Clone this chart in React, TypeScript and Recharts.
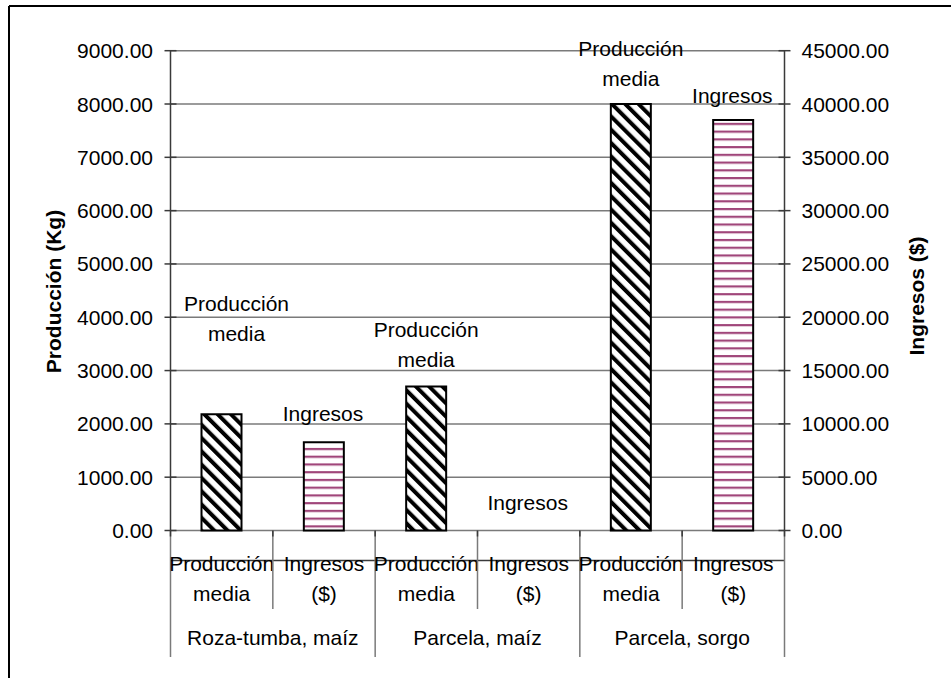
import React from 'react';
import { ComposedChart, Bar, Line, XAxis, YAxis, CartesianGrid, LabelList } from 'recharts';

// ---- data ----
const groups = ['Roza-tumba, maíz', 'Parcela, maíz', 'Parcela, sorgo'];
const subCategories = [
  ['Producción', 'media'],
  ['Ingresos', '($)'],
];
const produccionMediaKg = [2180, 2700, 8000];
const ingresosPesos = [8270, 0, 38500];
const leftTicks = [0, 1000, 2000, 3000, 4000, 5000, 6000, 7000, 8000, 9000];
const rightTicks = [0, 5000, 10000, 15000, 20000, 25000, 30000, 35000, 40000, 45000];
const prodLabelLines = ['Producción', 'media'];
const ingLabelLines = ['Ingresos'];

const rows = groups.flatMap((g, gi) => [
  { key: `${g} | ${subCategories[0].join(' ')}`, prod: produccionMediaKg[gi], ing: null },
  { key: `${g} | ${subCategories[1].join(' ')}`, prod: null, ing: ingresosPesos[gi] },
]);

// ---- layout ----
const W = 951;
const H = 678;
const PLOT_LEFT = 170.5;
const PLOT_RIGHT = 784.5;
const PLOT_TOP = 50.7;
const PLOT_BOTTOM = 530.5;
const Y_AXIS_W = 100;
const X_AXIS_H = 100;
const BAND = (PLOT_RIGHT - PLOT_LEFT) / rows.length;
const FONT = "'Liberation Sans', Arial, sans-serif";
const AXIS = '#3a3a3a';
const GRID = '#7a7a7a';
const FS = 21;

// hand-placed label nudges (relative to each bar top)
const prodLabelNudge = [
  { dx: 15, dy: -111 },
  { dx: 0, dy: -57 },
  { dx: 0, dy: -56 },
];
const ingLabelNudge = [-29, -28, -25];

const fmt = (v: number) => v.toFixed(2);

const LeftTick = (p: any) => {
  const { x, y, payload } = p;
  return (
    <g>
      <line x1={x - 6} x2={x + 6} y1={y} y2={y} stroke={AXIS} strokeWidth={1.5} />
      <text x={x - 17.5} y={y} textAnchor="end" dominantBaseline="central" fontFamily={FONT} fontSize={FS} fill="#000">
        {fmt(payload.value)}
      </text>
    </g>
  );
};

const RightTick = (p: any) => {
  const { x, y, payload } = p;
  return (
    <g>
      <line x1={x - 6} x2={x + 6} y1={y} y2={y} stroke={AXIS} strokeWidth={1.5} />
      <text x={x + 17} y={y} textAnchor="start" dominantBaseline="central" fontFamily={FONT} fontSize={FS} fill="#000">
        {fmt(payload.value)}
      </text>
    </g>
  );
};

// two-level category axis: sub-category under each bar, group name under each pair
const CategoryTick = (p: any) => {
  const { x, index } = p;
  const y = PLOT_BOTTOM;
  const sub = subCategories[index % 2];
  const isGroupStart = index % 2 === 0;
  const left = x - BAND / 2;
  const right = x + BAND / 2;
  const gi = Math.floor(index / 2);
  return (
    <g>
      <line x1={left} x2={left} y1={y} y2={y + (isGroupStart ? 126.5 : 78.5)} stroke={GRID} strokeWidth={1.5} />
      <line x1={left} x2={left} y1={y} y2={y + 6} stroke={AXIS} strokeWidth={1.5} />
      {index === rows.length - 1 && (
        <>
          <line x1={right} x2={right} y1={y} y2={y + 126.5} stroke={GRID} strokeWidth={1.5} />
          <line x1={right} x2={right} y1={y} y2={y + 6} stroke={AXIS} strokeWidth={1.5} />
        </>
      )}
      {sub.map((line, li) => (
        <text key={li} x={x} y={y + 32.5 + li * 30} textAnchor="middle" dominantBaseline="central" fontFamily={FONT} fontSize={FS} fill="#000">
          {line}
        </text>
      ))}
      {isGroupStart && (
        <text x={right} y={y + 106.5} textAnchor="middle" dominantBaseline="central" fontFamily={FONT} fontSize={FS} fill="#000">
          {groups[gi]}
        </text>
      )}
    </g>
  );
};

const groupOf = (x: number) =>
  Math.max(0, Math.min(groups.length - 1, Math.floor((x - PLOT_LEFT) / (2 * BAND))));

const ProdLabel = (props: any) => {
  if (props.value == null) return null;
  const vb = props.viewBox ?? props;
  const mid = vb.x + (vb.width || 0) / 2;
  const n = prodLabelNudge[groupOf(mid)];
  const top = vb.y + n.dy;
  return (
    <g>
      {prodLabelLines.map((line, li) => (
        <text key={li} x={mid + n.dx} y={top + li * 30} textAnchor="middle" dominantBaseline="central" fontFamily={FONT} fontSize={FS} fill="#000">
          {line}
        </text>
      ))}
    </g>
  );
};

const IngLabel = (props: any) => {
  if (props.value == null) return null;
  const vb = props.viewBox ?? props;
  const mid = vb.x + (vb.width || 0) / 2;
  const top = vb.y + ingLabelNudge[groupOf(mid)];
  return (
    <g>
      {ingLabelLines.map((line, li) => (
        <text key={li} x={mid - 1} y={top + li * 30} textAnchor="middle" dominantBaseline="central" fontFamily={FONT} fontSize={FS} fill="#000">
          {line}
        </text>
      ))}
    </g>
  );
};

export default function App() {
  return (
    <div style={{ position: 'absolute', left: 0, top: 0, width: W, height: H, background: '#fff', overflow: 'hidden' }}>
      <svg width={0} height={0} style={{ position: 'absolute' }}>
        <defs>
          <pattern id="hatchProd" patternUnits="userSpaceOnUse" width={9.4} height={9.4} patternTransform="rotate(-45)">
            <rect x={0} y={0} width={9.4} height={9.4} fill="#fff" />
            <rect x={0} y={0} width={4} height={9.4} fill="#000" />
          </pattern>
          <pattern id="stripeIng" patternUnits="userSpaceOnUse" x={0} y={-1} width={8} height={7.74}>
            <rect x={0} y={0} width={8} height={7.74} fill="#fff" />
            <rect x={0} y={0} width={8} height={2.2} fill="#a0467a" />
          </pattern>
        </defs>
      </svg>

      <ComposedChart
        width={W}
        height={H}
        data={rows}
        margin={{
          top: PLOT_TOP,
          left: PLOT_LEFT - Y_AXIS_W,
          right: W - PLOT_RIGHT - Y_AXIS_W,
          bottom: H - PLOT_BOTTOM - X_AXIS_H,
        }}
      >
        <CartesianGrid yAxisId="left" xAxisId="main" vertical={false} stroke={GRID} strokeWidth={1.5} />
        <XAxis
          xAxisId="main"
          dataKey="key"
          height={X_AXIS_H}
          interval={0}
          tickSize={0}
          tickMargin={0}
          tickLine={false}
          axisLine={{ stroke: AXIS, strokeWidth: 1.5 }}
          tick={CategoryTick}
        />
        <XAxis xAxisId="alt" dataKey="key" hide />
        <YAxis
          yAxisId="left"
          orientation="left"
          width={Y_AXIS_W}
          domain={[0, 9000]}
          ticks={leftTicks}
          interval={0}
          tickSize={0}
          tickMargin={0}
          tickLine={false}
          axisLine={{ stroke: AXIS, strokeWidth: 1.5 }}
          tick={LeftTick}
        />
        <YAxis
          yAxisId="right"
          orientation="right"
          width={Y_AXIS_W}
          domain={[0, 45000]}
          ticks={rightTicks}
          interval={0}
          tickSize={0}
          tickMargin={0}
          tickLine={false}
          axisLine={{ stroke: AXIS, strokeWidth: 1.5 }}
          tick={RightTick}
        />
        <Bar
          xAxisId="main"
          yAxisId="left"
          dataKey="prod"
          barSize={40}
          fill="url(#hatchProd)"
          stroke="#000"
          strokeWidth={2}
          isAnimationActive={false}
        >
          <LabelList dataKey="prod" content={ProdLabel} />
        </Bar>
        <Bar
          xAxisId="alt"
          yAxisId="right"
          dataKey="ing"
          barSize={40}
          fill="url(#stripeIng)"
          stroke="#000"
          strokeWidth={2}
          isAnimationActive={false}
        />
        {/* carrier for the "Ingresos" labels, so the zero-valued point keeps its label */}
        <Line
          xAxisId="alt"
          yAxisId="right"
          dataKey="ing"
          stroke="none"
          dot={false}
          activeDot={false}
          connectNulls={false}
          isAnimationActive={false}
        >
          <LabelList dataKey="ing" content={IngLabel} />
        </Line>
      </ComposedChart>

      <svg width={W} height={H} style={{ position: 'absolute', left: 0, top: 0, pointerEvents: 'none' }}>
        <line x1={9} y1={6} x2={W} y2={6} stroke="#000" strokeWidth={2} />
        <line x1={9} y1={6} x2={9} y2={H} stroke="#000" strokeWidth={2} />
        <text
          transform="translate(53 291.5) rotate(-90)"
          textAnchor="middle"
          dominantBaseline="central"
          fontFamily={FONT}
          fontSize={FS}
          fontWeight="bold"
          fill="#000"
        >
          Producción (Kg)
        </text>
        <text
          transform="translate(916.7 296) rotate(-90)"
          textAnchor="middle"
          dominantBaseline="central"
          fontFamily={FONT}
          fontSize={FS}
          fontWeight="bold"
          fill="#000"
        >
          Ingresos ($)
        </text>
      </svg>
    </div>
  );
}
